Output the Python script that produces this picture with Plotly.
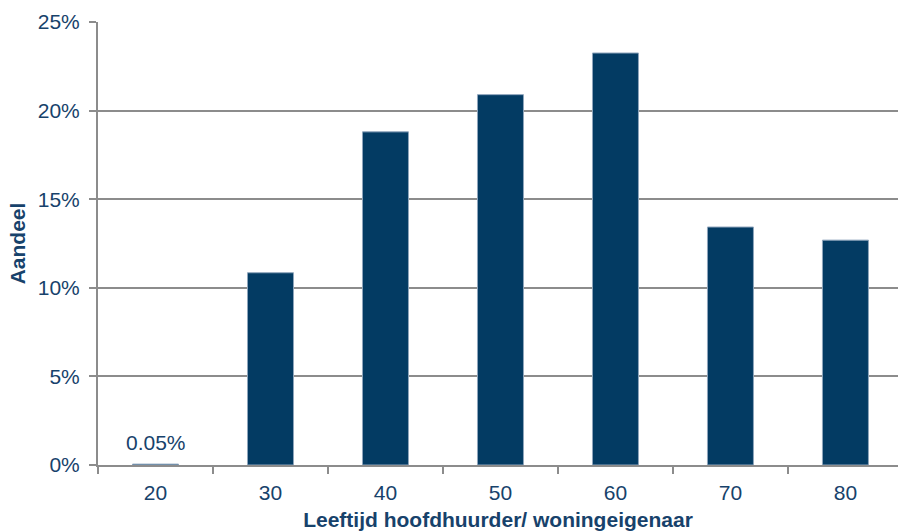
import plotly.graph_objects as go

# Age groups of the main tenant / home owner and their share
age_groups = ["20", "30", "40", "50", "60", "70", "80"]
share_pct = [0.05, 10.85, 18.8, 20.9, 23.25, 13.43, 12.69]
y_ticks = [0, 5, 10, 15, 20, 25]
y_tick_labels = ["0%", "5%", "10%", "15%", "20%", "25%"]

bar_color = "#033B63"
text_color = "#17426B"
grid_color = "#8C8C8C"
font_family = "Liberation Sans, Arial, sans-serif"
fs = 21

fig = go.Figure()
fig.add_trace(go.Bar(
    x=age_groups,
    y=share_pct,
    width=0.4,
    marker=dict(color=bar_color, line=dict(color="#8FA5BC", width=1)),
    hoverinfo="x+y",
))

# Value label for the near-zero first bar (category index 0)
fig.add_annotation(
    x=age_groups.index("20"), y=share_pct[0],
    xref="x", yref="y",
    text=f"{share_pct[0]:.2f}%",
    showarrow=False, yanchor="bottom", yshift=8,
    font=dict(size=fs, color=text_color, family=font_family),
)

fig.update_layout(
    width=898, height=531,
    margin=dict(l=98, r=0, t=22, b=66),
    paper_bgcolor="white", plot_bgcolor="white",
    showlegend=False,
    font=dict(family=font_family, size=fs, color=text_color),
    xaxis=dict(
        type="category",
        range=[-0.5, 6.457],
        tickson="boundaries",
        ticks="outside", ticklen=7, tickwidth=2, tickcolor=grid_color,
        showline=True, linecolor=grid_color, linewidth=2,
        showgrid=False,
        ticklabelstandoff=8,
        tickfont=dict(size=fs, color=text_color),
        title=dict(text="<b>Leeftijd hoofdhuurder/ woningeigenaar</b>",
                   font=dict(size=fs, color=text_color), standoff=12),
    ),
    yaxis=dict(
        range=[0, 25],
        tickvals=y_ticks, ticktext=y_tick_labels,
        ticks="outside", ticklen=7, tickwidth=2, tickcolor=grid_color,
        showline=True, linecolor=grid_color, linewidth=2,
        showgrid=True, gridcolor=grid_color, gridwidth=2,
        zeroline=False,
        ticklabelstandoff=5,
        tickfont=dict(size=fs, color=text_color),
        title=dict(text="<b>Aandeel</b>",
                   font=dict(size=fs, color=text_color), standoff=6),
    ),
)

fig.write_html("out.html")
